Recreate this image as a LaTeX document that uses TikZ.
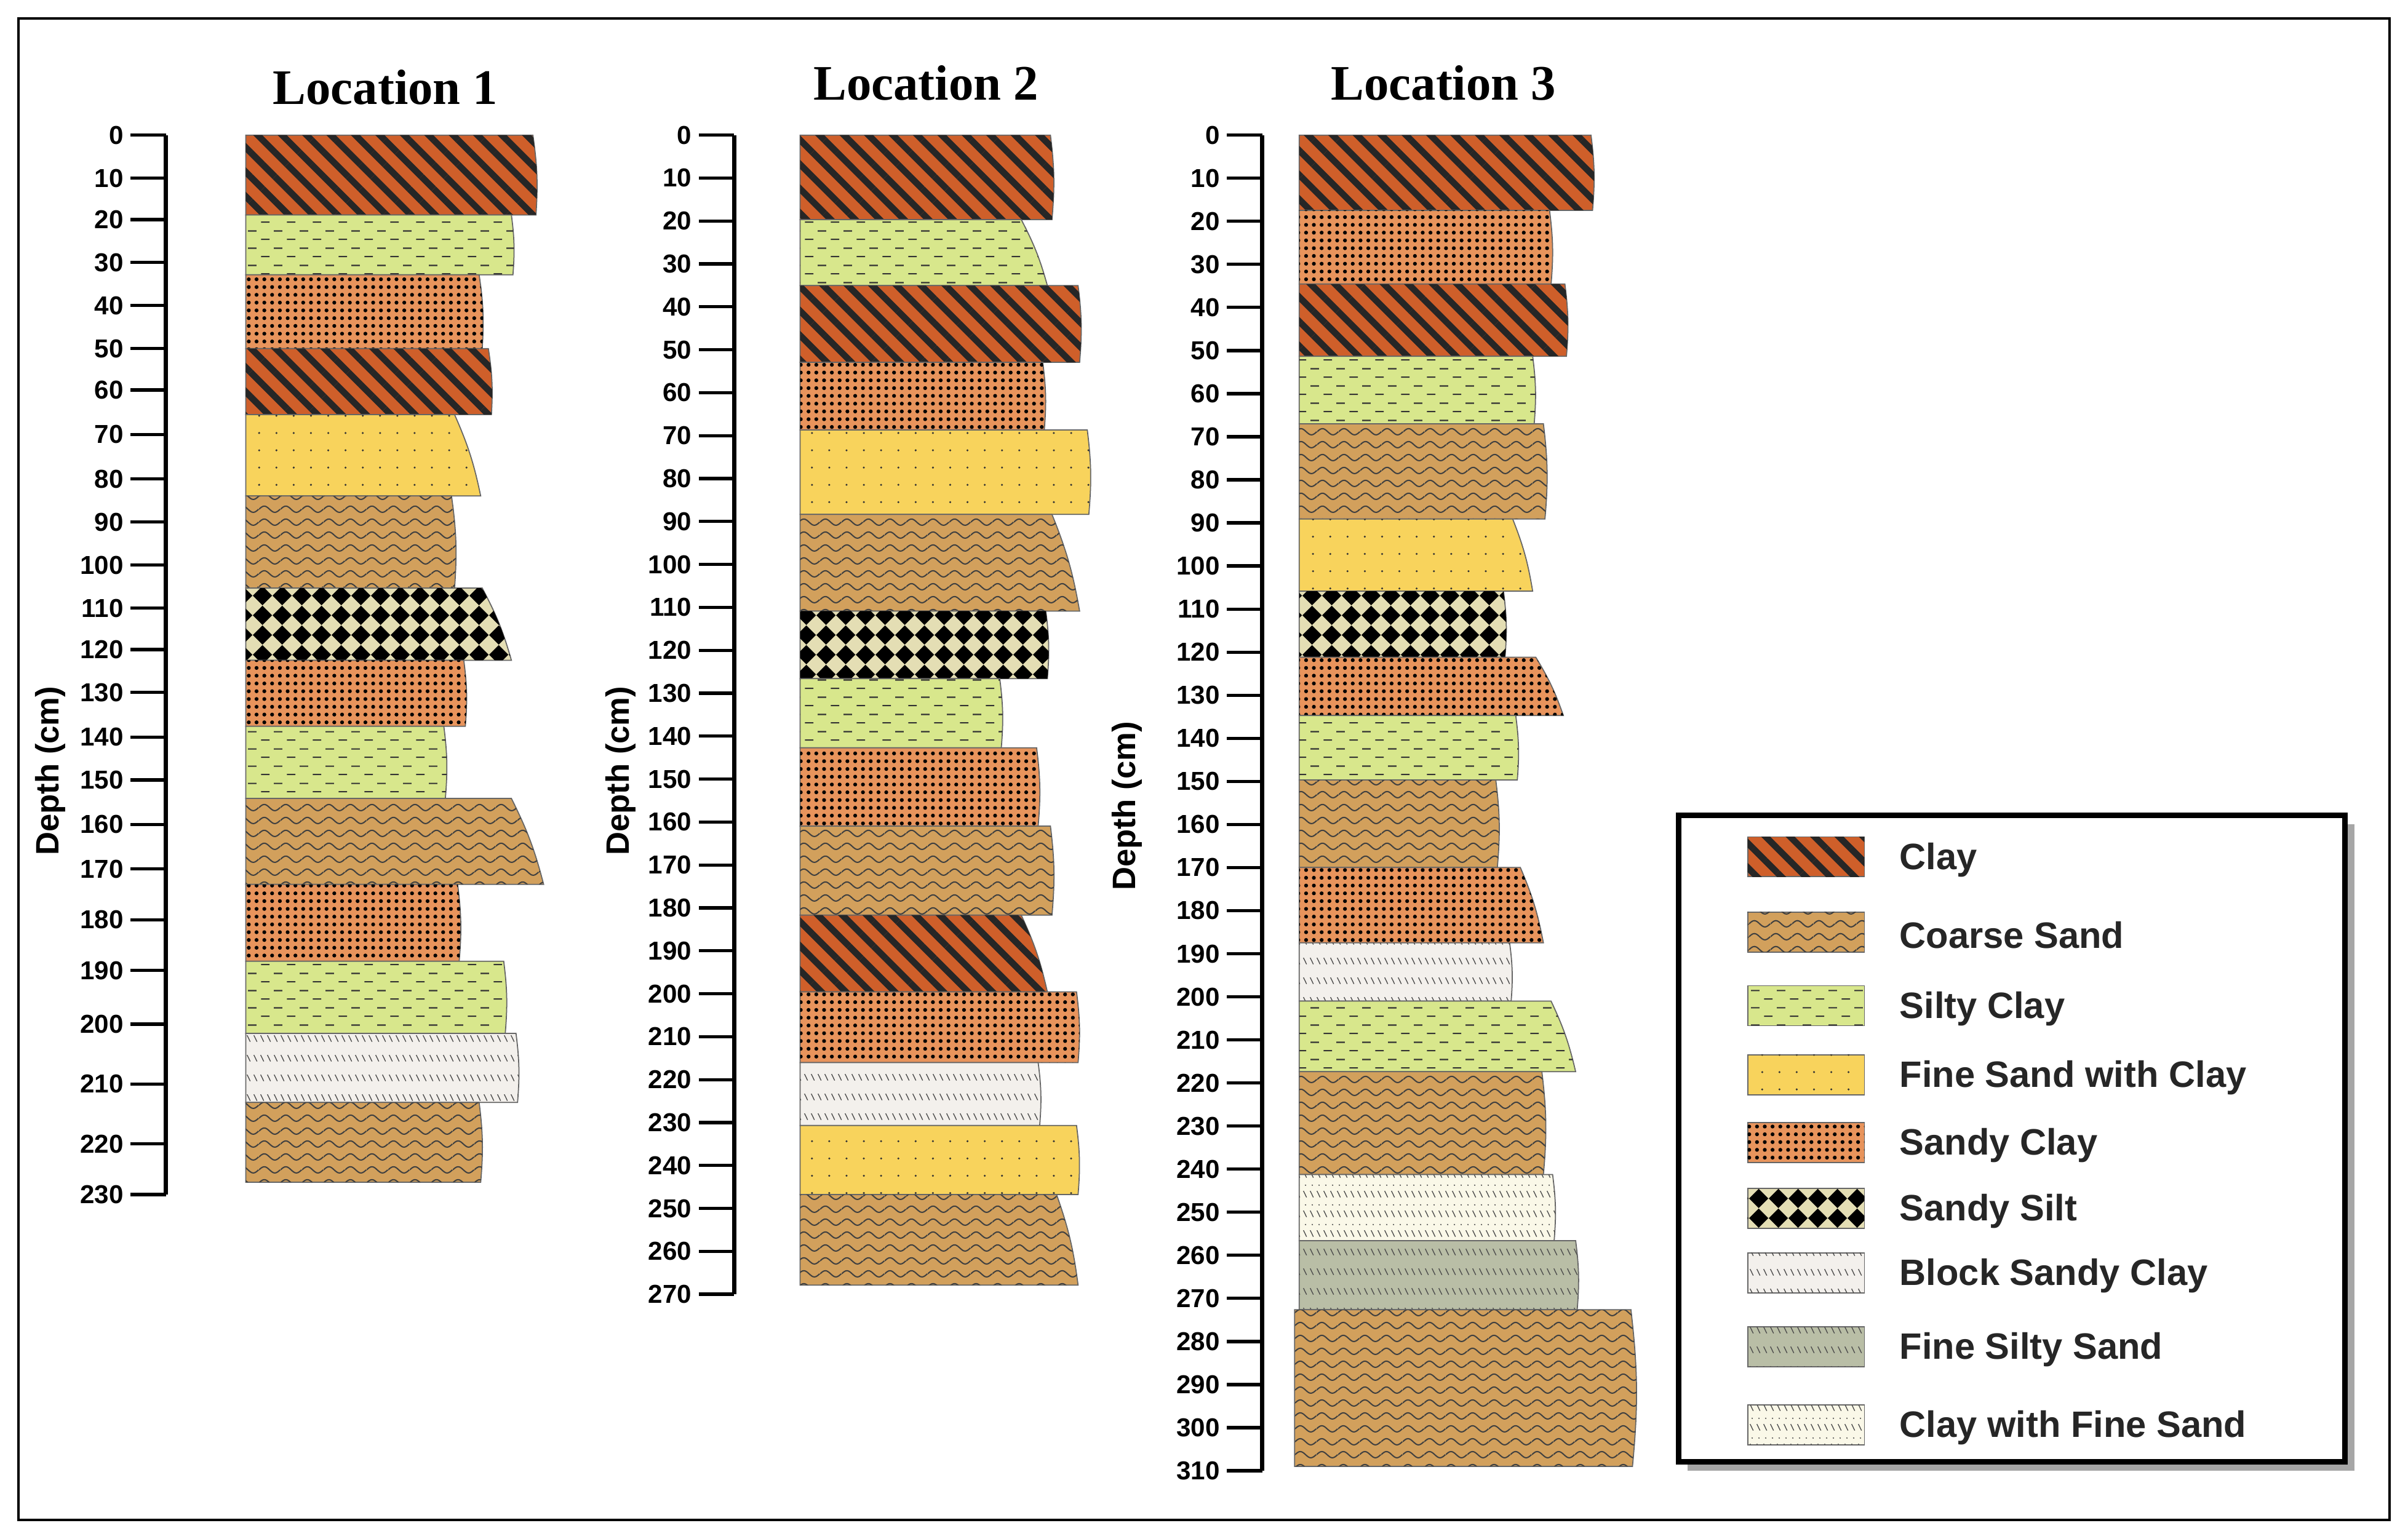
\documentclass[tikz,border=0pt]{standalone}
\usepackage{fontspec}
\setmainfont{Liberation Sans}
\newfontfamily\titlefont{Liberation Serif}
\usetikzlibrary{patterns,patterns.meta}
\definecolor{cClay}{HTML}{CF5F2A}
\definecolor{cCoarse}{HTML}{D2A05C}
\definecolor{cSilty}{HTML}{D8E78C}
\definecolor{cFine}{HTML}{F8D35C}
\definecolor{cSandy}{HTML}{E8945C}
\definecolor{cSilt}{HTML}{E4DEB4}
\definecolor{cBlock}{HTML}{F3F0EC}
\definecolor{cFSS}{HTML}{B9BEA6}
\definecolor{cCFS}{HTML}{FAF8E8}
\tikzdeclarepattern{name=wavy,type=uncolored,bounding box={(0,0) and (10pt,6pt)},tile size={(10pt,6pt)},
 code={\draw[line width=.6pt] (0,3pt) sin (2.5pt,4.5pt) cos (5pt,3pt) sin (7.5pt,1.5pt) cos (10pt,3pt);}}
\tikzdeclarepattern{name=dashes,type=uncolored,bounding box={(0,0) and (12pt,8pt)},tile size={(12pt,8pt)},
 code={\draw[line width=.6pt] (1pt,2pt)--(5pt,2pt) (7pt,6pt)--(11pt,6pt);}}
\tikzdeclarepattern{name=diamonds,type=uncolored,bounding box={(0,0) and (9pt,9pt)},tile size={(9pt,9pt)},
 code={\fill (4.5pt,0)--(9pt,4.5pt)--(4.5pt,9pt)--(0,4.5pt)--cycle;}}
\tikzdeclarepattern{name=slashes,type=uncolored,bounding box={(0,0) and (3pt,9pt)},tile size={(3pt,9pt)},
 code={\draw[line width=.4pt] (0.5pt,8pt)--(2pt,5pt);}}
\tikzdeclarepattern{name=slashdots,type=uncolored,bounding box={(0,0) and (3pt,9pt)},tile size={(3pt,9pt)},
 code={\draw[line width=.4pt] (0.5pt,8pt)--(2pt,5pt); \fill (1.5pt,1.5pt) circle (.35pt);}}
\tikzset{
 lay/.style={draw=black!60,line width=.5pt},
 clay/.style={lay,fill=cClay,postaction={pattern={Lines[angle=-45,distance=8pt,line width=3pt]},pattern color=black!85}},
 coarse/.style={lay,fill=cCoarse,postaction={pattern=wavy,pattern color=black!75}},
 silty/.style={lay,fill=cSilty,postaction={pattern=dashes,pattern color=black!80}},
 fine/.style={lay,fill=cFine,postaction={pattern={Dots[radius=.5pt,distance=8pt]},pattern color=black!80}},
 sandy/.style={lay,fill=cSandy,postaction={pattern={Dots[radius=.9pt,distance=3.6pt]},pattern color=black}},
 silt/.style={lay,fill=cSilt,postaction={pattern=diamonds,pattern color=black}},
 block/.style={lay,fill=cBlock,postaction={pattern=slashes,pattern color=black!70}},
 fss/.style={lay,fill=cFSS,postaction={pattern=slashes,pattern color=black!70}},
 cfs/.style={lay,fill=cCFS,postaction={pattern=slashdots,pattern color=black!70}},
 tick/.style={font=\fontsize{12}{12}\selectfont\bfseries,anchor=east,inner sep=1pt},
 ttl/.style={font=\titlefont\fontsize{23}{23}\selectfont\bfseries},
 dep/.style={font=\fontsize{15}{15}\selectfont\bfseries,rotate=90},
 leg/.style={font=\fontsize{17}{17}\selectfont\bfseries,anchor=west,text=black!85},
}
\newcommand\lay[6]{\path[#6] (#1,#2) -- (#4,#2) to[bend left=6] (#5,#3) -- (#1,#3) -- cycle;}
\begin{document}
\begin{tikzpicture}[x=0.025cm,y=-0.025cm]
\useasboundingbox (0,0) rectangle (1568,1002);
\draw[line width=1pt] (12,12) rectangle (1556,990);
% titles
\node[ttl] (t1) at (251,57) {Location 1};
\node[ttl] (t2) at (603,54) {Location 2};
\node[ttl] (t3) at (940,54) {Location 3};
\node[dep] (d1) at (33,502) {Depth (cm)};
\node[dep] (d2) at (404,502) {Depth (cm)};
\node[dep] (d3) at (734,525) {Depth (cm)};
% axis 1
\draw[line width=2pt] (108,88) -- (108,778);
\foreach \v/\y in {0/88,10/116,20/143,30/171,40/199,50/227,60/254,70/283,80/312,90/340,100/368,110/396,120/423,130/451,140/480,150/508,160/537,170/566,180/599,190/632,200/667,210/706,220/745,230/778}{
 \draw[line width=1.5pt] (85,\y) -- (108,\y); \node[tick] at (82,\y) {\v};}
% axis 2
\draw[line width=2pt] (478,88) -- (478,843);
\foreach \v in {0,10,...,270}{\pgfmathsetmacro\y{88+\v*2.796}
 \draw[line width=1.5pt] (455,\y) -- (478,\y); \node[tick] at (452,\y) {\v};}
% axis 3
\draw[line width=2pt] (822,88) -- (822,958);
\foreach \v in {0,10,...,310}{\pgfmathsetmacro\y{88+\v*2.806}
 \draw[line width=1.5pt] (799,\y) -- (822,\y); \node[tick] at (796,\y) {\v};}
% column 1
\lay{160}{88}{140}{347}{349}{clay}
\lay{160}{140}{179}{333}{334}{silty}
\lay{160}{179}{227}{312}{314}{sandy}
\lay{160}{227}{270}{318}{320}{clay}
\lay{160}{270}{323}{296}{313}{fine}
\lay{160}{323}{383}{294}{296}{coarse}
\lay{160}{383}{430}{314}{333}{silt}
\lay{160}{430}{473}{302}{303}{sandy}
\lay{160}{473}{520}{289}{290}{silty}
\lay{160}{520}{576}{333}{354}{coarse}
\lay{160}{576}{626}{298}{299}{sandy}
\lay{160}{626}{673}{328}{329}{silty}
\lay{160}{673}{718}{336}{337}{block}
\lay{160}{718}{770}{312}{313}{coarse}
% column 2
\lay{521}{88}{143}{684}{685}{clay}
\lay{521}{143}{186}{665}{682}{silty}
\lay{521}{186}{236}{702}{703}{clay}
\lay{521}{236}{280}{679}{680}{sandy}
\lay{521}{280}{335}{708}{709}{fine}
\lay{521}{335}{398}{685}{703}{coarse}
\lay{521}{398}{442}{681}{682}{silt}
\lay{521}{442}{487}{651}{652}{silty}
\lay{521}{487}{538}{675}{676}{sandy}
\lay{521}{538}{596}{684}{685}{coarse}
\lay{521}{596}{646}{665}{682}{clay}
\lay{521}{646}{692}{701}{702}{sandy}
\lay{521}{692}{733}{676}{677}{block}
\lay{521}{733}{778}{701}{702}{fine}
\lay{521}{778}{837}{688}{702}{coarse}
% column 3
\lay{846}{88}{137}{1036}{1037}{clay}
\lay{846}{137}{185}{1009}{1010}{sandy}
\lay{846}{185}{232}{1019}{1020}{clay}
\lay{846}{232}{276}{998}{999}{silty}
\lay{846}{276}{338}{1005}{1006}{coarse}
\lay{846}{338}{385}{985}{998}{fine}
\lay{846}{385}{428}{979}{980}{silt}
\lay{846}{428}{466}{1000}{1018}{sandy}
\lay{846}{466}{508}{987}{988}{silty}
\lay{846}{508}{565}{974}{975}{coarse}
\lay{846}{565}{614}{990}{1005}{sandy}
\lay{846}{614}{652}{983}{984}{block}
\lay{846}{652}{698}{1010}{1026}{silty}
\lay{846}{698}{765}{1004}{1005}{coarse}
\lay{846}{765}{808}{1011}{1012}{cfs}
\lay{846}{808}{853}{1026}{1027}{fss}
\lay{843}{853}{955}{1062}{1063}{coarse}
% legend
\fill[black!35] (1099,537) rectangle (1533,958);
\draw[line width=2.5pt,fill=white] (1093,531) rectangle (1527,952);
\foreach \s/\y/\t/\n in {clay/558/Clay/l1,coarse/607/Coarse Sand/l2,silty/655/Silty Clay/l3,fine/700/Fine Sand with Clay/l4,sandy/744/Sandy Clay/l5,silt/787/Sandy Silt/l6,block/829/Block Sandy Clay/l7,fss/877/Fine Silty Sand/l8,cfs/928/Clay with Fine Sand/l9}{
 \path[\s] (1138,\y-13) rectangle (1214,\y+13);
 \node[leg] (\n) at (1232,\y+2) {\t};}
\end{tikzpicture}
\end{document}
